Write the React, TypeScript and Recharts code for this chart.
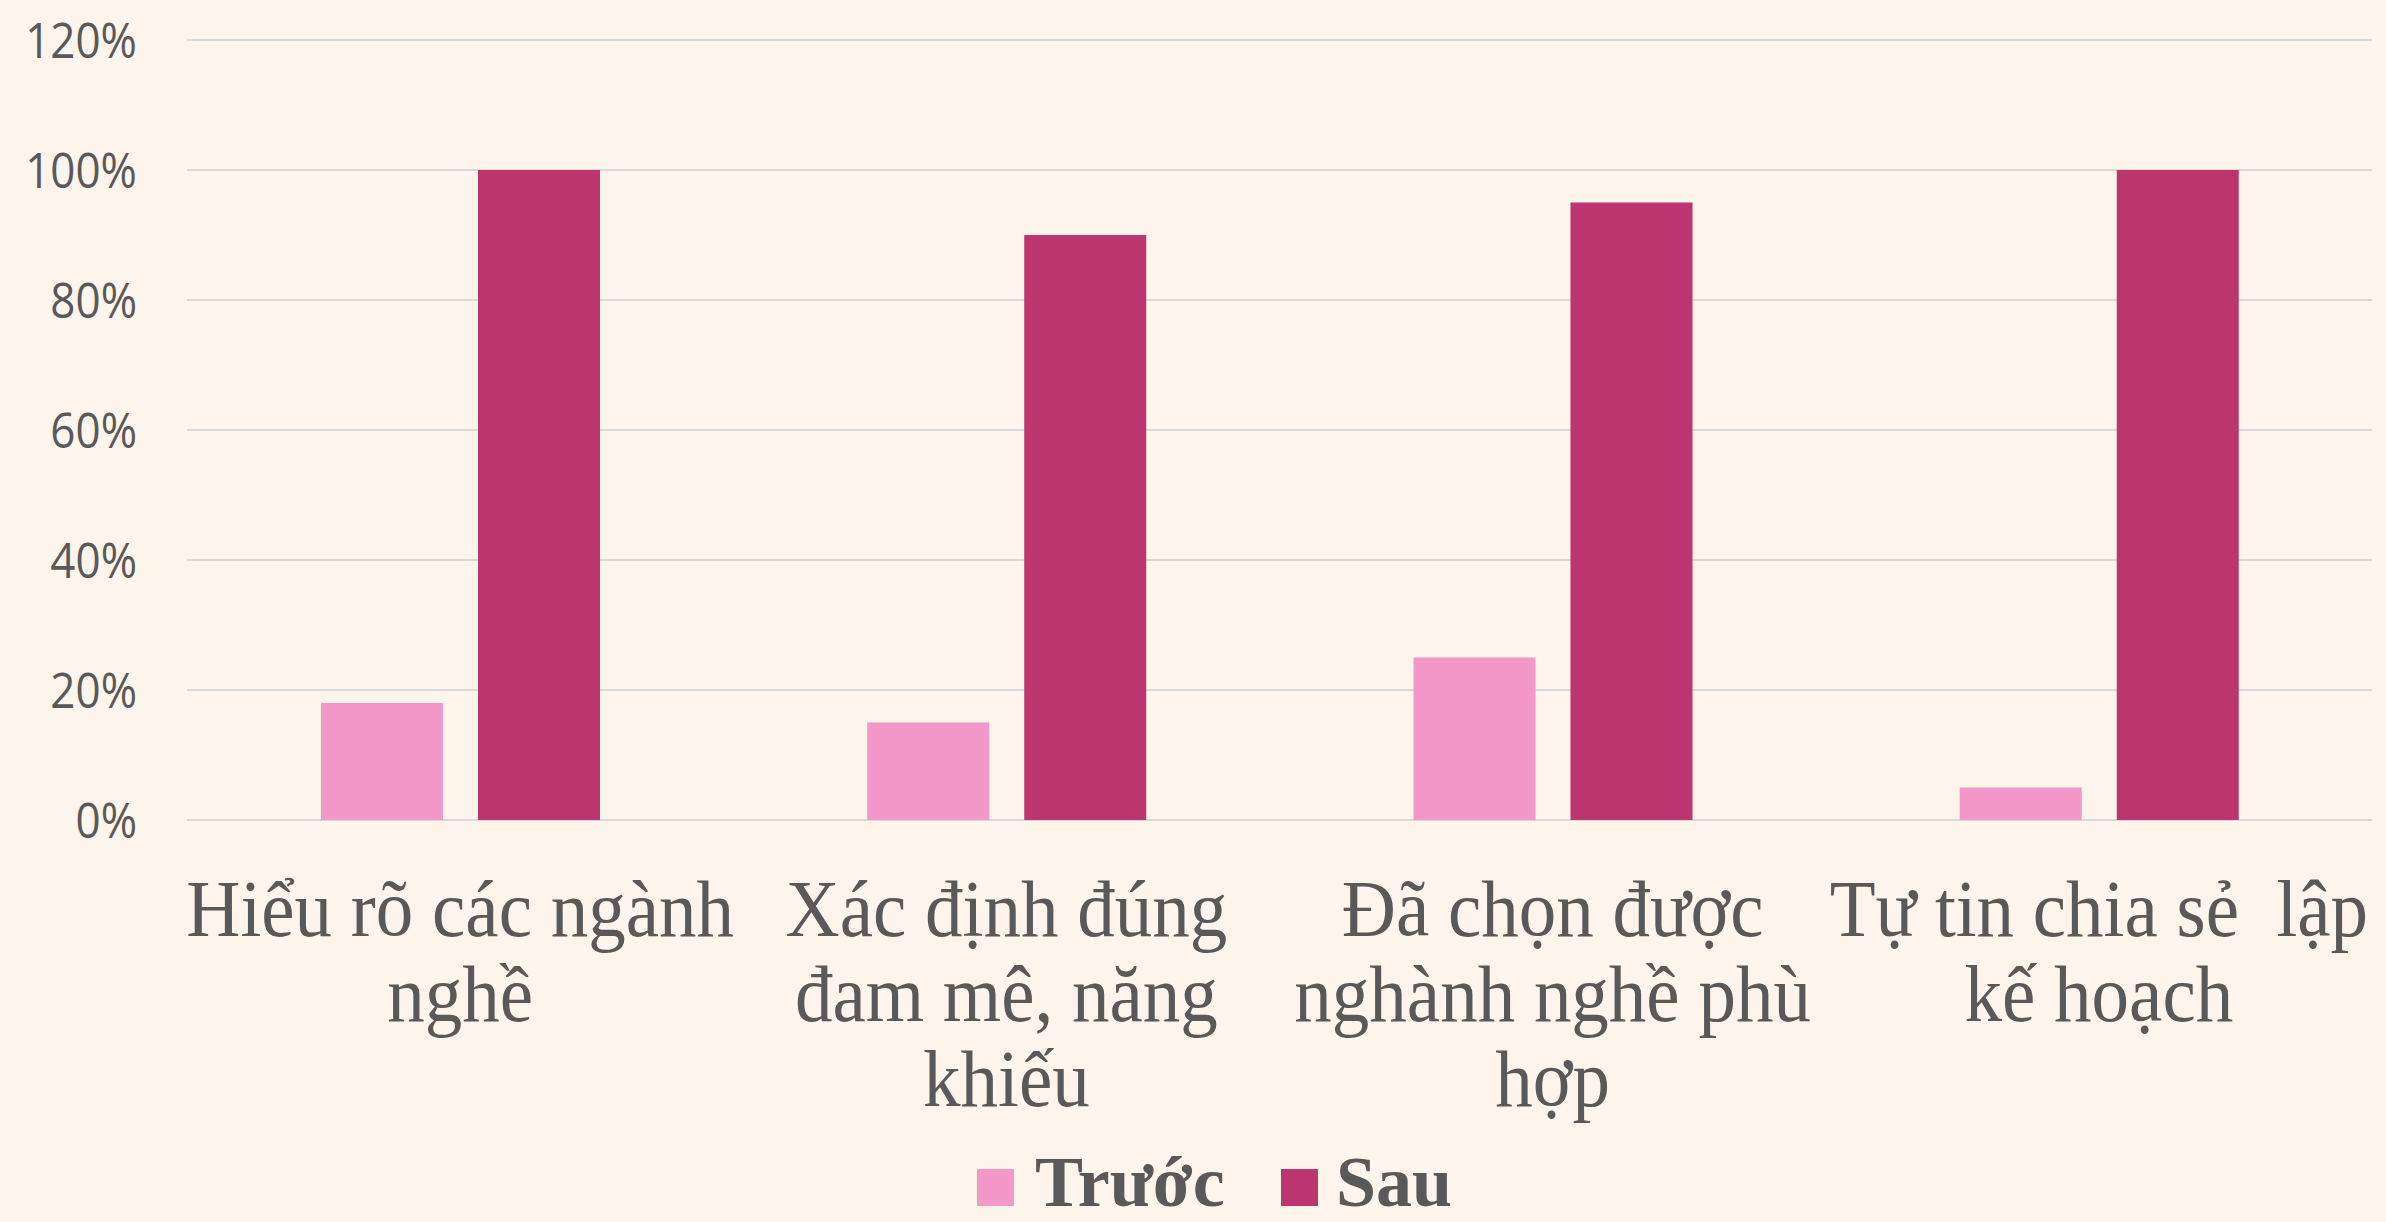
import React from "react";
import { BarChart, Bar, XAxis, YAxis, CartesianGrid, Legend } from "recharts";

const categories = ["c1", "c2", "c3", "c4"];
const categoryLines = [
  ["Hiểu rõ các ngành", "nghề"],
  ["Xác định đúng", "đam mê, năng", "khiếu"],
  ["Đã chọn được", "nghành nghề phù", "hợp"],
  ["Tự tin chia sẻ  lập", "kế hoạch"],
];
const seriesNames = ["Trước", "Sau"];
const truocValues = [0.18, 0.15, 0.25, 0.05];
const sauValues = [1.0, 0.9, 0.95, 1.0];
const yTicks = [0, 0.2, 0.4, 0.6, 0.8, 1.0, 1.2];

const COLORS = ["#F497C9", "#BC356E"];
const BG = "#FDF4EC";
const TEXT = "#595959";

const data = categories.map((c, i) => ({
  category: c,
  truoc: truocValues[i],
  sau: sauValues[i],
}));

const W = 2386;
const H = 1222;
const LEGEND_TOP = 1112;
const PLOT_BOTTOM = 820;

const XTick = (props: any) => {
  const { x, y, index } = props;
  const lines = categoryLines[index] || [];
  const s = 1.08;
  return (
    <g transform={`translate(${x},${y}) scale(1,${s})`}>
      {lines.map((ln, i) => (
        <text
          key={i}
          x={0}
          y={(108 + i * 85) / s}
          textAnchor="middle"
          fill={TEXT}
          fontFamily="'Liberation Serif', 'Times New Roman', serif"
          fontSize={75}
          style={{ whiteSpace: "pre" }}
        >
          {ln}
        </text>
      ))}
    </g>
  );
};

const YTick = (props: any) => {
  const { y, payload } = props;
  const s = 1.12;
  const label = `${Math.round(payload.value * 100)}%`;
  return (
    <g transform={`translate(137,${y}) scale(1,${s})`}>
      <text
        x={0}
        y={0}
        dy="0.36em"
        textAnchor="end"
        fill={TEXT}
        fontFamily="'Open Sans', sans-serif"
        fontSize={44}
      >
        {label}
      </text>
    </g>
  );
};

const LegendContent = () => {
  const items = [
    { name: seriesNames[0], color: COLORS[0], sq: 977, tx: 1035 },
    { name: seriesNames[1], color: COLORS[1], sq: 1281, tx: 1336 },
  ];
  const h = H - LEGEND_TOP;
  const base = 1206 - LEGEND_TOP;
  return (
    <svg width={W} height={h} style={{ display: "block" }}>
      {items.map((it) => (
        <g key={it.name}>
          <rect x={it.sq} y={base - 37} width={37} height={37} fill={it.color} />
          <text
            x={it.tx}
            y={base}
            fill={TEXT}
            fontFamily="'Liberation Serif', 'Times New Roman', serif"
            fontWeight="bold"
            fontSize={72}
          >
            {it.name}
          </text>
        </g>
      ))}
    </svg>
  );
};

export default function App() {
  return (
    <div
      style={{
        position: "absolute",
        left: 0,
        top: 0,
        width: W,
        height: H,
        background: BG,
        overflow: "hidden",
      }}
    >
      <BarChart
        width={W}
        height={H}
        data={data}
        margin={{ top: 40, right: 14, left: 0, bottom: 0 }}
        barGap={35}
      >
        <CartesianGrid vertical={false} stroke="#D9D9D9" strokeWidth={2} />
        <XAxis
          dataKey="category"
          axisLine={false}
          tickLine={false}
          interval={0}
          height={H - PLOT_BOTTOM - (H - LEGEND_TOP)}
          tick={<XTick />}
        />
        <YAxis
          domain={[0, 1.2]}
          ticks={yTicks}
          axisLine={false}
          tickLine={false}
          width={187}
          tick={<YTick />}
          interval={0}
        />
        <Legend
          verticalAlign="bottom"
          height={H - LEGEND_TOP}
          content={<LegendContent />}
          wrapperStyle={{ left: 0, width: W, top: LEGEND_TOP, bottom: "auto", height: H - LEGEND_TOP }}
        />
        <Bar dataKey="truoc" name={seriesNames[0]} fill={COLORS[0]} barSize={122} isAnimationActive={false} />
        <Bar dataKey="sau" name={seriesNames[1]} fill={COLORS[1]} barSize={122} isAnimationActive={false} />
      </BarChart>
    </div>
  );
}
